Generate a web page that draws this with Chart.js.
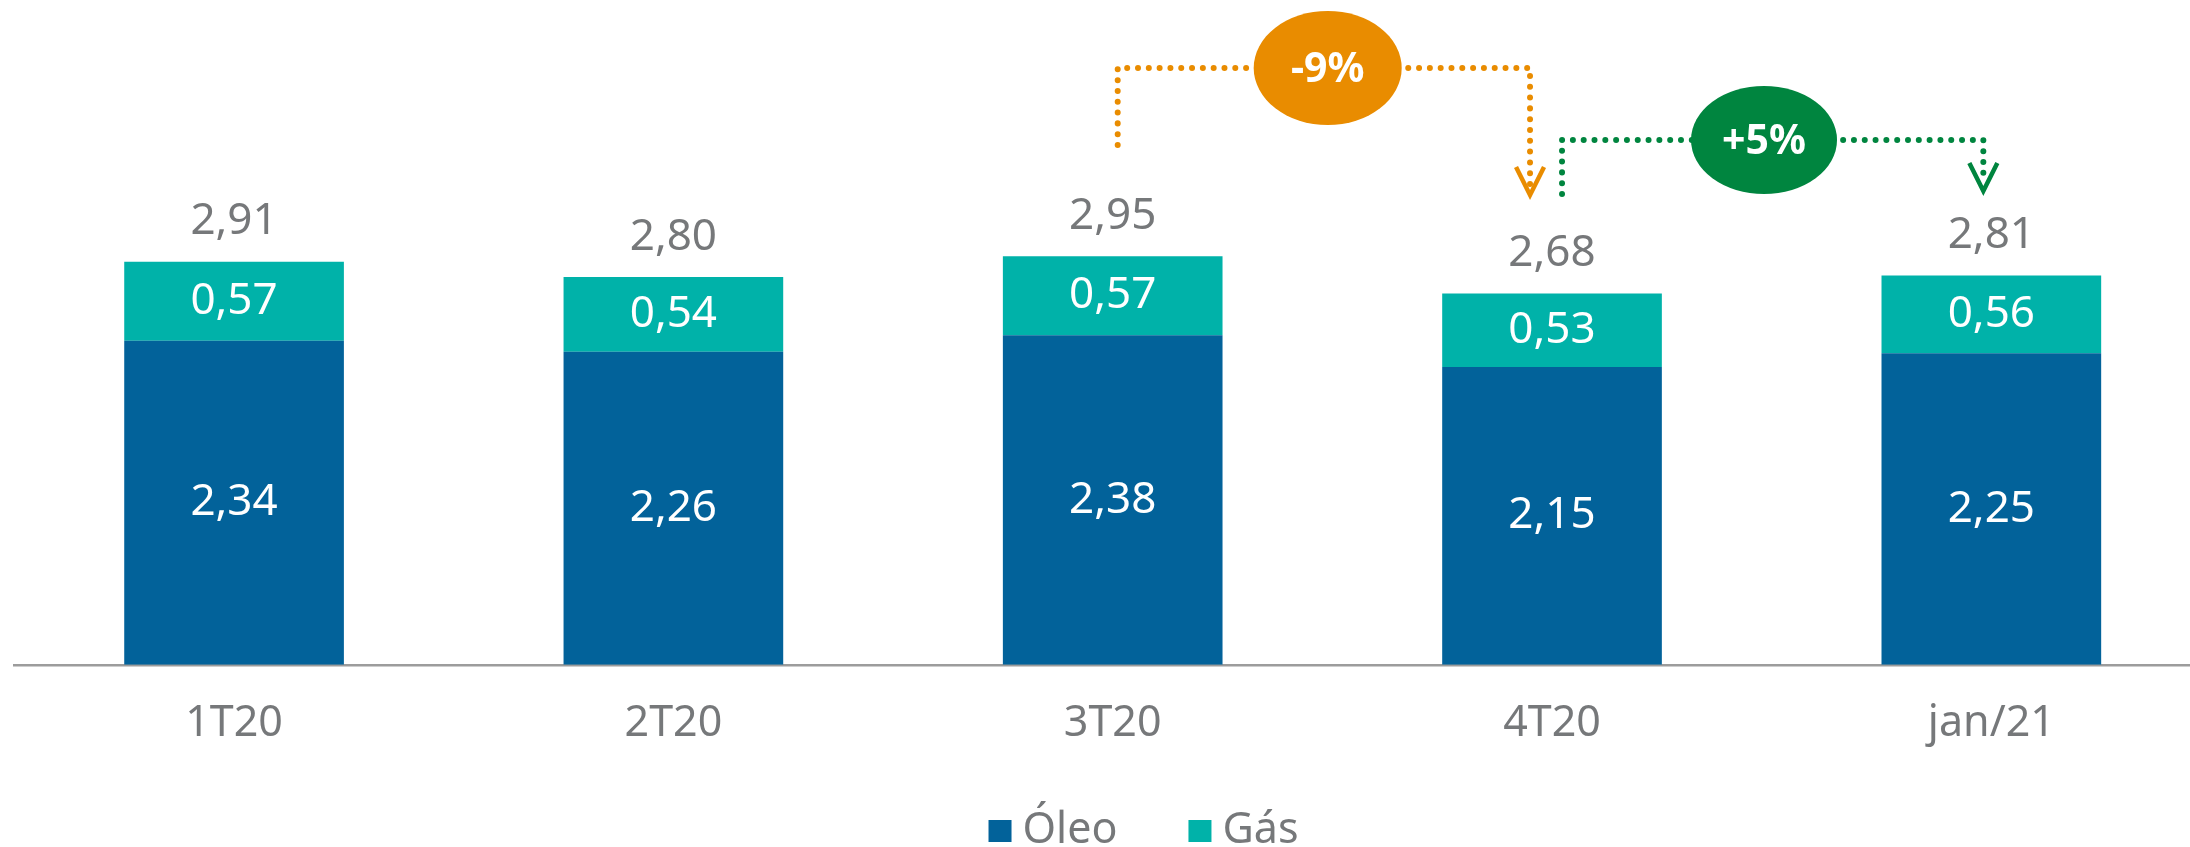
<!DOCTYPE html>
<html>
<head>
<meta charset="utf-8">
<script src="https://cdn.jsdelivr.net/npm/chart.js@4.4.1/dist/chart.umd.min.js"></script>
<style>
  html, body { margin: 0; padding: 0; background: #ffffff; overflow: hidden; }
  #wrap { width: 2190px; height: 847px; overflow: hidden; position: relative; }
  canvas { display: block; }
</style>
</head>
<body>
<div id="wrap"><canvas id="c" width="2211" height="847"></canvas></div>
<script>
const categories = ['1T20', '2T20', '3T20', '4T20', 'jan/21'];
const oleo = [2.34, 2.26, 2.38, 2.15, 2.25];
const gas = [0.57, 0.54, 0.57, 0.53, 0.56];
const totals = [2.91, 2.80, 2.95, 2.68, 2.81];
const seriesNames = ['Óleo', 'Gás'];
const changeLabels = ['-9%', '+5%'];
const changeFrom = [2, 3];
const changeTo = [3, 4];

const FONT = '"Noto Sans", "Open Sans", sans-serif';
const GRAY = '#76787a';
const BLUE = '#02629a';
const TEAL = '#00b2a9';
const ORANGE = '#e98c00';
const GREEN = '#00853f';

const fmt = v => v.toFixed(2).replace('.', ',');

const labelPlugin = {
  id: 'labels',
  afterDatasetsDraw(chart) {
    const ctx = chart.ctx;
    ctx.save();
    ctx.textAlign = 'center';
    ctx.textBaseline = 'middle';
    ctx.font = '44px ' + FONT;
    const m0 = chart.getDatasetMeta(0).data;
    const m1 = chart.getDatasetMeta(1).data;
    m0.forEach((bar, i) => {
      ctx.fillStyle = '#ffffff';
      ctx.fillText(fmt(oleo[i]), bar.x, (bar.y + bar.base) / 2);
    });
    m1.forEach((bar, i) => {
      ctx.fillStyle = '#ffffff';
      ctx.fillText(fmt(gas[i]), bar.x, (bar.y + bar.base) / 2);
      ctx.fillStyle = GRAY;
      ctx.fillText(fmt(totals[i]), bar.x, bar.y - 40);
    });
    ctx.restore();
  },
  afterDraw(chart) {
    const ctx = chart.ctx;
    const xs = chart.scales.x;
    const specs = [
      { color: ORANGE, l: xs.getPixelForValue(changeFrom[0]) + 5, r: xs.getPixelForValue(changeTo[0]) - 22,
        y: 68, lb: 145, tip: 197, cxOff: 210, rx: 74, ry: 57, text: changeLabels[0] },
      { color: GREEN, l: xs.getPixelForValue(changeFrom[1]) + 10, r: xs.getPixelForValue(changeTo[1]) - 8,
        y: 140, lb: 194, tip: 193, cxOff: 202, rx: 73, ry: 54, text: changeLabels[1] }
    ];
    specs.forEach(s => {
      ctx.save();
      ctx.strokeStyle = s.color;
      ctx.lineWidth = 6;
      ctx.lineCap = 'round';
      ctx.setLineDash([0.01, 10.8]);
      ctx.beginPath();
      ctx.moveTo(s.l, s.lb);
      ctx.lineTo(s.l, s.y);
      ctx.lineTo(s.r, s.y);
      ctx.lineTo(s.r, s.tip - 10);
      ctx.stroke();
      ctx.setLineDash([]);
      ctx.lineWidth = 4.5;
      ctx.lineCap = 'butt';
      ctx.lineJoin = 'miter';
      ctx.beginPath();
      ctx.moveTo(s.r - 14, s.tip - 30);
      ctx.lineTo(s.r, s.tip - 2);
      ctx.lineTo(s.r + 14, s.tip - 30);
      ctx.stroke();
      const cx = s.l + s.cxOff;
      ctx.fillStyle = s.color;
      ctx.beginPath();
      ctx.ellipse(cx, s.y, s.rx, s.ry, 0, 0, Math.PI * 2);
      ctx.fill();
      ctx.fillStyle = '#ffffff';
      ctx.font = 'bold 41px ' + FONT;
      ctx.textAlign = 'center';
      ctx.textBaseline = 'middle';
      ctx.fillText(s.text, cx, s.y + 2);
      ctx.restore();
    });
    ctx.save();
    ctx.font = '43px ' + FONT;
    ctx.textBaseline = 'middle';
    ctx.textAlign = 'left';
    const colors = chart.data.datasets.map(d => d.backgroundColor);
    const names = chart.data.datasets.map(d => d.label);
    const box = 23, gap = 11, itemGap = 71;
    const widths = names.map(n => ctx.measureText(n).width);
    const total = widths.reduce((a, w) => a + box + gap + w, 0) + itemGap * (names.length - 1);
    let x = 1143.5 - total / 2;
    const cy = 831;
    names.forEach((n, i) => {
      ctx.fillStyle = colors[i];
      ctx.fillRect(x, cy - 11, box, 22);
      ctx.fillStyle = GRAY;
      ctx.fillText(n, x + box + gap, cy);
      x += box + gap + widths[i] + itemGap;
    });
    ctx.restore();
  }
};

new Chart(document.getElementById('c'), {
  type: 'bar',
  data: {
    labels: categories,
    datasets: [
      { label: seriesNames[0], data: oleo, backgroundColor: BLUE, borderWidth: 0, barPercentage: 0.5, categoryPercentage: 1.0 },
      { label: seriesNames[1], data: gas, backgroundColor: TEAL, borderWidth: 0, barPercentage: 0.5, categoryPercentage: 1.0 }
    ]
  },
  options: {
    responsive: false,
    animation: false,
    devicePixelRatio: 1,
    layout: { padding: { left: 14.4, right: 0, top: 0, bottom: 64.6 } },
    plugins: { legend: { display: false }, tooltip: { enabled: false } },
    scales: {
      x: {
        stacked: true,
        grid: { display: false, drawTicks: false },
        border: { display: true, color: '#9c9c9c', width: 2.5 },
        ticks: { color: GRAY, font: { family: FONT, size: 43 }, padding: 33, maxRotation: 0 }
      },
      y: {
        stacked: true,
        display: false,
        min: 0,
        max: 4.8
      }
    }
  },
  plugins: [labelPlugin]
});
</script>
</body>
</html>
